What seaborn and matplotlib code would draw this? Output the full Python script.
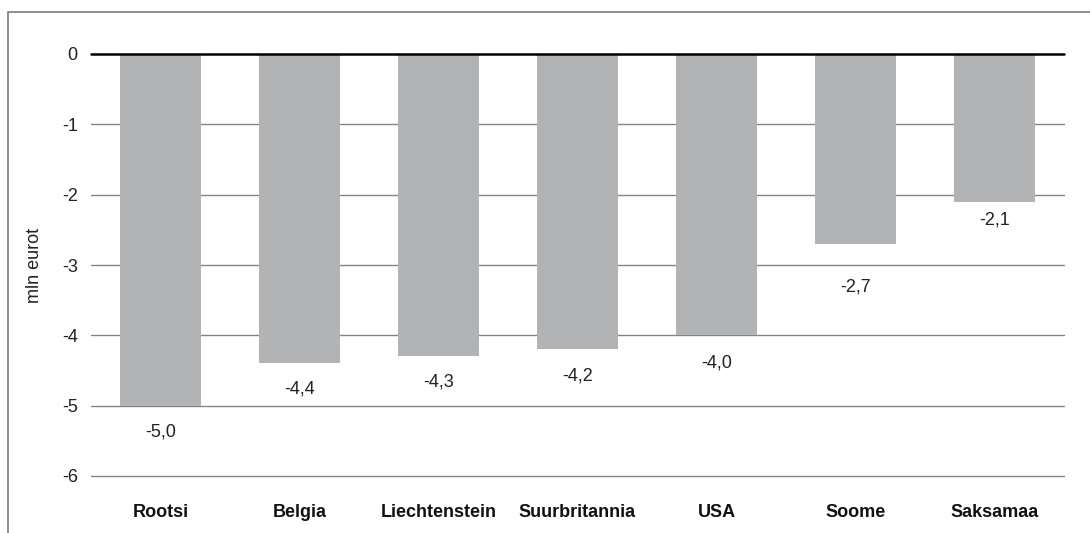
import numpy as np
import pandas as pd
import matplotlib.pyplot as plt
import matplotlib.patches as mpatches
import seaborn as sns

# andmed
riigid = ["Rootsi", "Belgia", "Liechtenstein", "Suurbritannia", "USA", "Soome", "Saksamaa"]
vaartused = [-5.0, -4.4, -4.3, -4.2, -4.0, -2.7, -2.1]
y_ticks = [0, -1, -2, -3, -4, -5, -6]
# sildi nihe tulba otsast (px), nagu originaalis
sildi_nihe = [26, 26, 26, 27, 28, 43, 18]

sns.set_style("white")
plt.rcParams['font.family'] = ['Liberation Sans', 'DejaVu Sans']

df = pd.DataFrame({"riik": riigid, "vaartus": vaartused})

fig = plt.figure(figsize=(10.9, 5.33), dpi=100)
ax = fig.add_axes([91/1090, 1 - 476/533, 973/1090, 422/533])

sns.barplot(data=df, x="riik", y="vaartus", color="#b2b3b4", width=0.58,
            saturation=1, ax=ax, zorder=2, edgecolor="none", linewidth=0)

ax.set_ylim(-6, 0)
ax.set_xlim(-0.5, len(riigid) - 0.5)
ax.set_yticks(y_ticks)
ax.set_yticklabels([str(t) for t in y_ticks])
for t in y_ticks:
    if t == 0:
        ax.axhline(t, color="black", lw=1.8, zorder=3, clip_on=False)
    else:
        ax.axhline(t, color="#85857f", lw=1.0, zorder=1, clip_on=False)

for s in ax.spines.values():
    s.set_visible(False)

ax.tick_params(axis="y", length=0, pad=9.5, labelsize=13, labelcolor="#222222")
ax.tick_params(axis="x", length=0, pad=20, labelsize=13, labelcolor="#111111")
for lab in ax.get_xticklabels():
    lab.set_fontweight("bold")

ax.set_xlabel("")
ax.set_ylabel("mln eurot", fontsize=13, color="#222222")
ax.yaxis.set_label_coords(-0.049, 0.5)

for i, v in enumerate(vaartused):
    ax.annotate(f"{v:.1f}".replace(".", ","), xy=(i, v),
                xytext=(0, -sildi_nihe[i] * 0.72), textcoords="offset points",
                ha="center", va="center", fontsize=13, color="#222222")

# raam ümber joonise
fig.patches.append(mpatches.Rectangle((8/1090, -0.2), 1.5, 1.2 - 12/533,
                                      transform=fig.transFigure, fill=False,
                                      edgecolor="#7a7a7a", lw=1.2))

fig.savefig("out.png", dpi=100)
